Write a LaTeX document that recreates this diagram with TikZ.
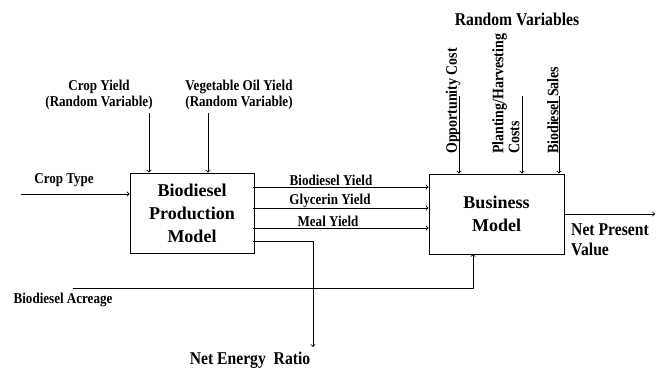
\documentclass[tikz,border=0pt]{standalone}
\usepackage{fontspec}
\setmainfont{Liberation Serif}
\newfontfamily\condfont[FakeStretch=0.87]{Liberation Serif}
\usetikzlibrary{shapes,arrows,positioning}
\tikzstyle{mbox} = [rectangle, draw, line width=0.9bp, align=center, font=\bfseries\fontsize{18bp}{23bp}\selectfont]
\tikzstyle{slabel} = [align=center, inner sep=1bp, font=\condfont\bfseries\fontsize{15bp}{16bp}\selectfont]
\tikzstyle{mlabel} = [align=center, inner sep=1bp, font=\condfont\bfseries\fontsize{18bp}{20bp}\selectfont]
\tikzstyle{rlabel} = [rotate=90, anchor=west, align=left, inner sep=1bp, font=\condfont\bfseries\fontsize{16bp}{16bp}\selectfont]
\tikzstyle{conn} = [draw, line width=0.9bp, ->]

\begin{document}
\begin{tikzpicture}[x=1bp, y=-1bp]
	\useasboundingbox (0,0) rectangle (659,369);
	% models
	\node [mbox, minimum width=124bp, minimum height=80bp] (bpm) at (192,213) {Biodiesel\\Production\\Model};
	\node [mbox, minimum width=135bp, minimum height=80bp] (bm) at (496.5,214) {Business\\Model};

	% labels
	\node [slabel] (cropyield) at (99,95) {Crop Yield\\(Random Variable)};
	\node [slabel] (vegoil) at (239,95) {Vegetable Oil Yield\\(Random Variable)};
	\node [slabel] (croptype) at (64,180) {Crop Type};
	\node [slabel] (acreage) at (63,300) {Biodiesel Acreage};
	\node [slabel] (bdyield) at (331,180) {Biodiesel Yield};
	\node [slabel] (glyield) at (330,201) {Glycerin Yield};
	\node [slabel] (mealyield) at (328,221) {Meal Yield};
	\node [mlabel] (randvar) at (517,19) {Random Variables};
	\node [mlabel] (ner) at (250,360) {Net Energy~ Ratio};
	\node [mlabel, anchor=west, align=left] (npv) at (570,240) {Net Present\\Value};
	\node [rlabel] (opp) at (453,155) {Opportunity Cost};
	\node [rlabel] (plant) at (506,155) {Planting/Harvesting\\Costs};
	\node [rlabel] (sales) at (553,155) {Biodiesel Sales};

	% connector ends
	\coordinate (ctin) at (21,194);
	\coordinate (cyin) at (149,113);
	\coordinate (voin) at (208,113);
	\coordinate (byout) at (253,187);
	\coordinate (gyout) at (253,208);
	\coordinate (myout) at (253,228);
	\coordinate (neout) at (253,241);
	\coordinate (nerend) at (313,347);
	\coordinate (bain) at (73,288);
	\coordinate (baend) at (473,254);
	\coordinate (oppin) at (459,96);
	\coordinate (plantin) at (522,96);
	\coordinate (salesin) at (559,96);
	\coordinate (npvend) at (655,214);

	\path [conn] (ctin) -- (ctin -| bpm.west);
	\path [conn] (cyin) -- (cyin |- bpm.north);
	\path [conn] (voin) -- (voin |- bpm.north);
	\path [conn] (byout) -- (byout -| bm.west);
	\path [conn] (gyout) -- (gyout -| bm.west);
	\path [conn] (myout) -- (myout -| bm.west);
	\path [conn] (neout) -| (nerend);
	\path [conn] (bain) -| (baend);
	\path [conn] (oppin) -- (oppin |- bm.north);
	\path [conn] (plantin) -- (plantin |- bm.north);
	\path [conn] (salesin) -- (salesin |- bm.north);
	\path [conn] (bm.east) -- (npvend);
\end{tikzpicture}
\end{document}
